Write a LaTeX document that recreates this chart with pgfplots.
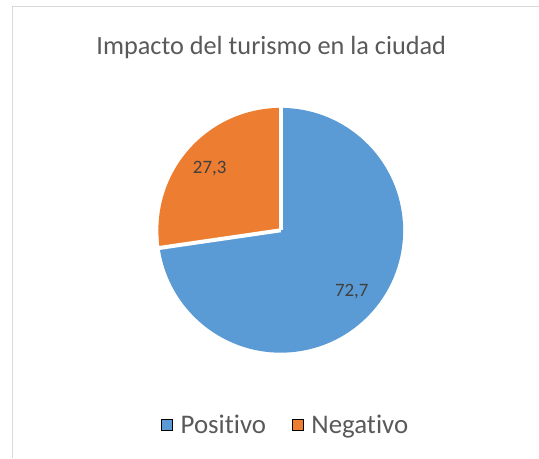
\documentclass[border=0pt]{standalone}
\usepackage{fontspec}
\setmainfont{Carlito}[Ligatures={NoCommon,NoRequired,NoContextual}]
\usepackage{pgfplots}
\usepackage{pgfplotstable}
\pgfplotsset{compat=1.18}
\definecolor{pieblue}{HTML}{5B9BD5}
\definecolor{pieorange}{HTML}{ED7D31}
\definecolor{titlegray}{HTML}{595959}
\definecolor{labelgray}{HTML}{404040}
\definecolor{framegray}{HTML}{D9D9D9}
\pgfplotstableread{
label value
Positivo 72.7
Negativo 27.3
}\pietable
\pgfplotstablegetelem{0}{value}\of\pietable \let\valPos\pgfplotsretval
\pgfplotstablegetelem{1}{value}\of\pietable \let\valNeg\pgfplotsretval
\pgfmathsetmacro\angSplit{90+3.6*\valNeg}
\pgfmathsetmacro\midNeg{(90+\angSplit)/2}
\pgfmathsetmacro\midPos{(\angSplit+450)/2}
\begin{document}
\begin{tikzpicture}
\begin{axis}[
  width=539bp, height=458bp, scale only axis,
  xmin=0, xmax=539, ymin=0, ymax=458,
  hide axis, clip=false,
  /pgf/number format/assume math mode=true,
  legend columns=2,
  legend style={at={(axis cs:286,32.5)}, anchor=center, draw=none, fill=none,
    font=\fontsize{27}{30}\selectfont, text=titlegray, inner sep=0pt,
    /tikz/every odd column/.append style={column sep=6bp},
    /tikz/every even column/.append style={column sep=24bp}},
  legend image code/.code={\fill[#1] (0bp,-5.5bp) rectangle (11bp,5.5bp);},
]
\path (axis cs:0,0) rectangle (axis cs:539,458);
\draw[framegray, line width=1bp] (axis cs:13,0) -- (axis cs:13,451) -- (axis cs:539,451);
% sectors
\fill[pieblue] (axis cs:281,227.5) -- ++(\angSplit:122.5bp) arc[start angle=\angSplit, end angle=450, radius=122.5bp] -- cycle;
\fill[pieorange] (axis cs:281,227.5) -- ++(90:122.5bp) arc[start angle=90, end angle=\angSplit, radius=122.5bp] -- cycle;
\draw[white, line width=4bp] (axis cs:281,227.5) -- ++(90:124bp);
\draw[white, line width=4bp] (axis cs:281,227.5) -- ++(\angSplit:124bp);
% labels
\path (axis cs:281,227.5) ++(\midPos:94bp) node[text=labelgray, font=\fontsize{19}{22}\selectfont] {\pgfmathprintnumber[fixed, precision=1, use comma, assume math mode=true]{\valPos}};
\path (axis cs:281,227.5) ++(\midNeg:94bp) node[text=labelgray, font=\fontsize{19}{22}\selectfont] {\pgfmathprintnumber[fixed, precision=1, use comma, assume math mode=true]{\valNeg}};
% title
\node[anchor=base, text=titlegray, font=\fontsize{26.4}{30}\selectfont] at (axis cs:271.5,403) {Impacto del turismo en la ciudad};
\addlegendimage{fill=pieblue}
\addlegendentry{Positivo}
\addlegendimage{fill=pieorange}
\addlegendentry{Negativo}
\end{axis}
\end{tikzpicture}
\end{document}
